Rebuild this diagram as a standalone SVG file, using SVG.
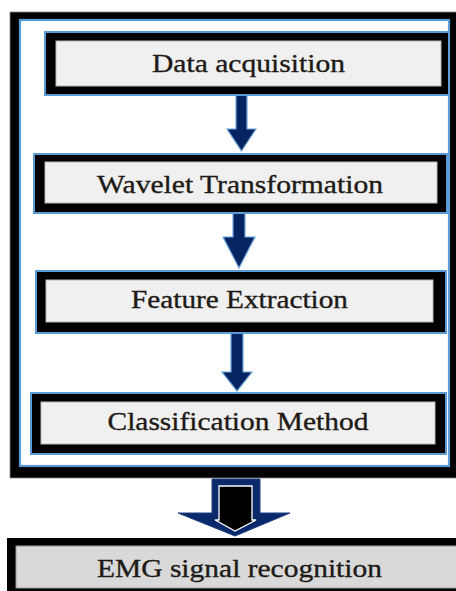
<svg xmlns="http://www.w3.org/2000/svg" width="456" height="591" viewBox="0 0 456 591">
<style>
.blk{fill:#000;stroke:#5b9bd5;stroke-width:2}
.inner{fill:#f0f0f0;stroke:#b8b8b8;stroke-width:1}
.lbl{font-family:"Liberation Serif","Times New Roman",serif;font-size:26px;fill:#1e1a16;stroke:#1e1a16;stroke-width:0.35;text-anchor:middle}
.arr{fill:#062462;stroke:#6fa8dc;stroke-width:1.2;stroke-linejoin:miter}
</style>
<rect width="456" height="591" fill="#fff"/>
<g id="frame">
<rect x="10" y="12" width="452" height="466" fill="#000" stroke="#888" stroke-width="0.8"/>
<rect x="20" y="20" width="429" height="446" fill="#fff" stroke="#5b9bd5" stroke-width="2.2"/>
</g>
<g id="connectors">
<polygon class="arr" points="236,95 247,95 247,129 256,129 241.5,151 227,129 236,129"/>
<polygon class="arr" points="233,213 245,213 245,237 255,237 239,268 223,237 233,237"/>
<polygon class="arr" points="231,333 243,333 243,372 252,372 237,391 222,372 231,372"/>
<g id="big-arrow">
<polygon points="212,479 260,479 260,513 290,513 235,536 178,513 212,513" fill="#0b2a6b" stroke="#1f3f80" stroke-width="1"/>
<polygon points="219,486 252,486 252,520 256,520 235,531 215,520 219,520" fill="#000" stroke="#fff" stroke-width="1.3"/>
</g>
</g>
<g id="node-data-acquisition">
<rect class="blk" x="45" y="32" width="404" height="63"/>
<rect class="inner" x="56" y="41" width="385" height="45"/>
<text class="lbl" x="248.5" y="72" textLength="193" lengthAdjust="spacingAndGlyphs">Data acquisition</text>
</g>
<g id="node-wavelet">
<rect class="blk" x="34" y="154" width="413" height="59"/>
<rect class="inner" x="45" y="162" width="392" height="41"/>
<text class="lbl" x="240" y="192.5" textLength="286" lengthAdjust="spacingAndGlyphs">Wavelet Transformation</text>
</g>
<g id="node-feature">
<rect class="blk" x="36" y="271" width="410" height="62"/>
<rect class="inner" x="46" y="280" width="387" height="42"/>
<text class="lbl" x="239.5" y="308" textLength="217" lengthAdjust="spacingAndGlyphs">Feature Extraction</text>
</g>
<g id="node-classification">
<rect class="blk" x="31" y="393" width="415" height="61"/>
<rect class="inner" x="41" y="402" width="394" height="42"/>
<text class="lbl" x="238" y="430" textLength="261" lengthAdjust="spacingAndGlyphs">Classification Method</text>
</g>
<g id="node-emg">
<rect x="7" y="538" width="460" height="60" fill="#000"/>
<rect x="16" y="546" width="450" height="42" fill="#d9d9d9" stroke="#999" stroke-width="1"/>
<text class="lbl" x="239.5" y="577" textLength="285" lengthAdjust="spacingAndGlyphs">EMG signal recognition</text>
</g>
</svg>
